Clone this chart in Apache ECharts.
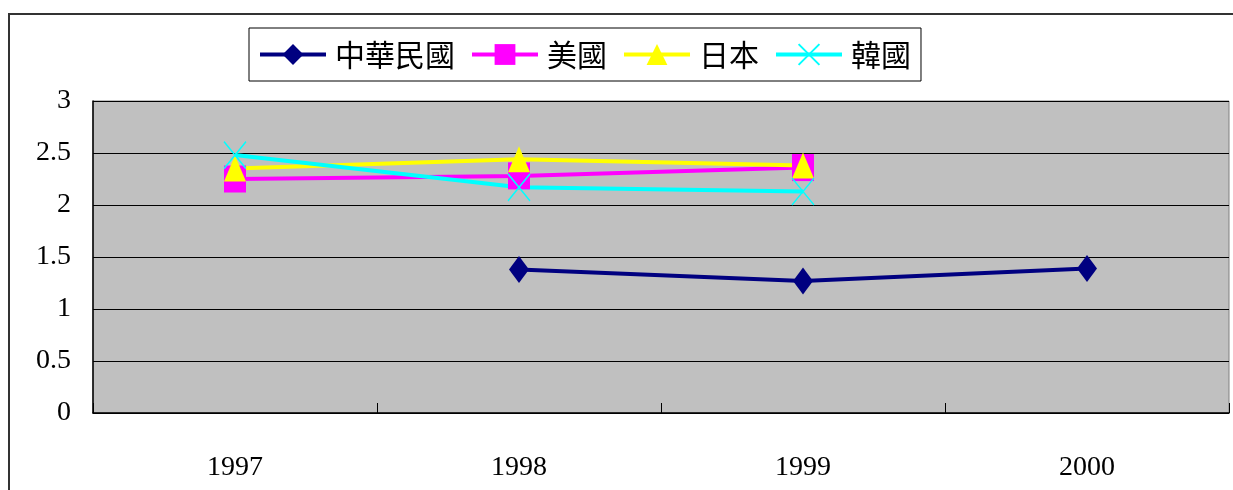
<!DOCTYPE html>
<html>
<head>
<meta charset="utf-8">
<script src="https://cdn.jsdelivr.net/npm/echarts@6/dist/echarts.min.js"></script>
<style>
  html, body { margin: 0; padding: 0; background: #fff; }
  #chart { width: 1233px; height: 490px; }
</style>
</head>
<body>
<div id="chart"></div>
<script>
const years = ["1997", "1998", "1999", "2000"];
const taiwan = [null, 1.38, 1.27, 1.39];
const usa = [2.25, 2.28, 2.36, null];
const japan = [2.35, 2.44, 2.38, null];
const korea = [2.48, 2.17, 2.13, null];

const cjkFont = "Noto Sans CJK TC";
const numFont = "Liberation Serif";

const lineSeries = (name, data, color, symbol, symbolSize, extraItem) => ({
  name,
  type: "line",
  data,
  symbol,
  symbolSize,
  showAllSymbol: true,
  connectNulls: false,
  lineStyle: { color, width: 4 },
  itemStyle: Object.assign({ color, opacity: 1 }, extraItem || {}),
  emphasis: { disabled: true },
  animation: false
});

const myChart = echarts.init(document.getElementById("chart"), null, { renderer: "canvas" });

const option = {
  backgroundColor: "#fff",
  animation: false,
  graphic: [
    {
      type: "rect",
      shape: { x: 9, y: 14, width: 1400, height: 600 },
      style: { fill: "none", stroke: "#333", lineWidth: 2 },
      z: -1
    }
  ],
  legend: {
    left: 249,
    top: 28,
    padding: [10, 10, 10, 9],
    itemWidth: 66,
    itemHeight: 26,
    itemGap: 15,
    borderColor: "#000",
    borderWidth: 1,
    backgroundColor: "#fff",
    lineStyle: { width: 4 },
    textStyle: {
      fontFamily: cjkFont,
      fontSize: 30,
      color: "#000",
      lineHeight: 33,
      padding: [0, 0, 0, 4]
    },
    data: ["中華民國", "美國", "日本", "韓國"]
  },
  grid: {
    left: 93,
    right: 4,
    top: 101,
    bottom: 77,
    show: true,
    backgroundColor: "#C0C0C0",
    borderColor: "#808080",
    borderWidth: 1
  },
  xAxis: {
    type: "category",
    data: years,
    boundaryGap: true,
    axisLine: { show: true, lineStyle: { color: "#000", width: 1.5 } },
    axisTick: { show: true, inside: true, length: 10, lineStyle: { color: "#000" } },
    axisLabel: { fontFamily: numFont, fontSize: 28, color: "#000", margin: 41 },
    splitLine: { show: false }
  },
  yAxis: {
    type: "value",
    min: 0,
    max: 3,
    interval: 0.5,
    axisLine: { show: true, lineStyle: { color: "#000", width: 1.5 } },
    axisTick: { show: false },
    axisLabel: { fontFamily: numFont, fontSize: 28, color: "#000", margin: 22 },
    splitLine: { show: true, lineStyle: { color: "#000", width: 1 } }
  },
  series: [
    lineSeries("中華民國", taiwan, "#000080", "diamond", [20, 27]),
    lineSeries("美國", usa, "#FF00FF", "rect", [22, 27]),
    lineSeries("日本", japan, "#FFFF00", "triangle", [22, 26]),
    lineSeries("韓國", korea, "#00FFFF", "path://M0,0L22,27M22,0L0,27", [22, 27],
      { color: "rgba(0,0,0,0)", borderColor: "#00FFFF", borderWidth: 1.5 })
  ]
};

myChart.setOption(option);

window.onresize = function () {
  myChart.resize();
};
</script>
</body>
</html>
